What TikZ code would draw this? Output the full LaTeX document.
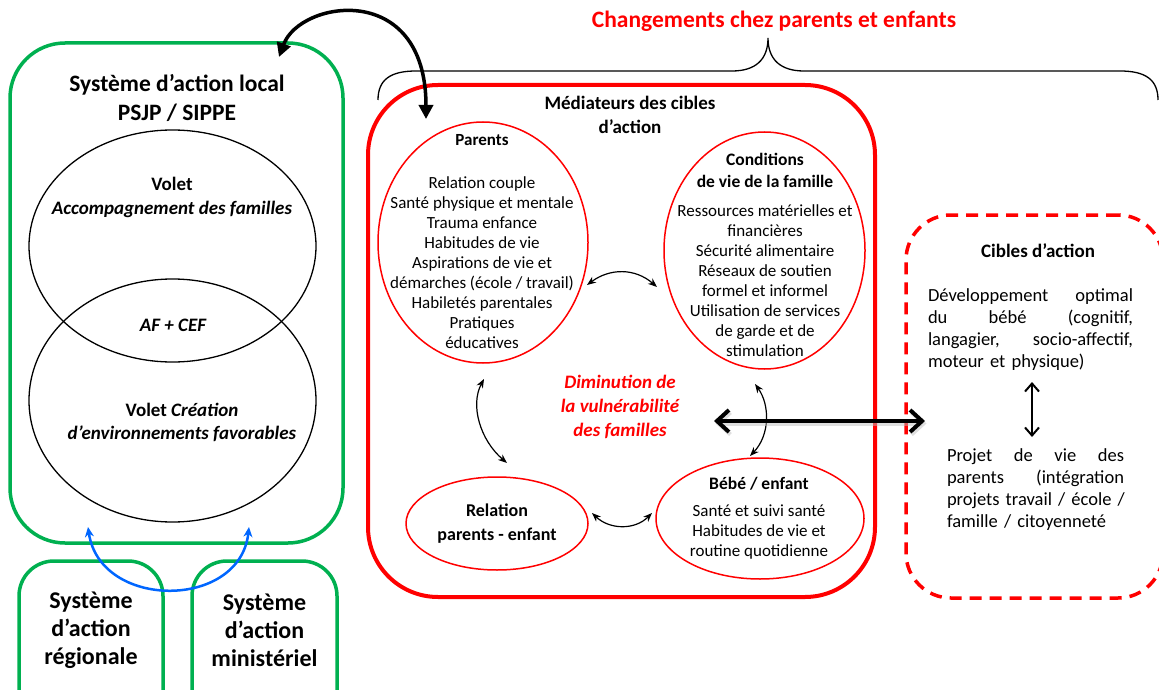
\documentclass[tikz,border=0pt]{standalone}
\usepackage{fontspec}
\setmainfont{Carlito}
\usetikzlibrary{shapes.geometric,arrows.meta}
\definecolor{grn}{RGB}{0,176,80}
\definecolor{rd}{RGB}{255,0,0}
\definecolor{blu}{RGB}{0,102,255}
\newcommand\fs[2]{\fontsize{#1}{#2}\selectfont}

\begin{document}
\begin{tikzpicture}[x=1pt,y=-1pt,
  txt/.style={inner sep=0pt, align=center},
  greenbox/.style={draw=grn, line width=3.5pt, rounded corners=55pt, inner sep=0pt},
  vennell/.style={draw=black, line width=1.3pt, ellipse, inner sep=0pt},
  redell/.style={draw=rd, line width=1.5pt, ellipse, inner sep=0pt},
  twoway/.style={{Stealth[length=9pt,width=7pt]}-{Stealth[length=9pt,width=7pt]}, line width=1.2pt},
  bluearrow/.style={draw=blu, line width=2.5pt, {Stealth[length=10pt,width=9pt]}-{Stealth[length=10pt,width=9pt]}},
  bigarrow/.style={line width=4pt, {Straight Barb[length=12pt,width=22pt]}-{Straight Barb[length=12pt,width=22pt]}},
]
\useasboundingbox (0,0) rectangle (1159,690);
\clip (0,0) rectangle (1159,690);

% ---------- local action system ----------
\node[greenbox, minimum width=333, minimum height=500] (local) at (176.5,293) {};
\node[txt, font=\bfseries\fs{23.5}{29}] (localT) at (177,97.5) {Système d’action local\\PSJP / SIPPE};
\node[vennell, minimum width=287, minimum height=232] (vaf) at (172.5,246) {};
\node[vennell, minimum width=287, minimum height=243] (vcef) at (172.5,400.5) {};
\node[txt, font=\bfseries\fs{19}{24}] (vafT) at (172,197) {Volet\\\textit{Accompagnement des familles}};
\node[txt, font=\bfseries\itshape\fs{19}{24}] (both) at (173,325) {AF + CEF};
\node[txt, font=\bfseries\fs{19}{23}] (vcefT) at (182,422.5) {Volet \textit{Création}\\\textit{d’environnements favorables}};

% ---------- regional and ministerial systems ----------
\node[greenbox, rounded corners=35pt, minimum width=144, minimum height=170] (reg) at (91,646) {};
\node[txt, font=\bfseries\fs{24}{28}] (regT) at (91,630.5) {Système\\d’action\\régionale};
\node[greenbox, rounded corners=35pt, minimum width=145, minimum height=170] (mins) at (264.5,646) {};
\node[txt, font=\bfseries\fs{24}{28}] (minsT) at (264.5,630.5) {Système\\d’action\\ministériel};
\coordinate (blA) at (88,527);
\coordinate (blB) at (249,527);
\draw[bluearrow] (blA) .. controls (100,610) and (240,610) .. (blB);

% ---------- mediators ----------
\node[draw=rd, line width=4pt, rounded corners=70pt, minimum width=507, minimum height=512, inner sep=0pt] (med) at (621.5,341) {};
\node[txt, font=\bfseries\fs{19}{24}] (medT) at (630,115) {Médiateurs des cibles\\d’action};

\node[redell, minimum width=210, minimum height=241] (par) at (483,242.5) {};
\node[txt, font=\bfseries\fs{17}{20}] (parT) at (482,140) {Parents};
\node[txt, font=\fs{17}{20}] (parL) at (482,263) {Relation couple\\Santé physique et mentale\\Trauma enfance\\Habitudes de vie\\Aspirations de vie et\\démarches (école / travail)\\Habiletés parentales\\Pratiques\\éducatives};

\node[redell, minimum width=201, minimum height=237] (cond) at (764.5,250.5) {};
\node[txt, font=\bfseries\fs{17.5}{22}] (condT) at (765,170) {Conditions\\de vie de la famille};
\node[txt, font=\fs{17}{20}] (condL) at (765,281) {Ressources matérielles et\\financières\\Sécurité alimentaire\\Réseaux de soutien\\formel et informel\\Utilisation de services\\de garde et de\\stimulation};

\node[redell, minimum width=182, minimum height=93] (rel) at (497,523.5) {};
\node[txt, font=\bfseries\fs{18}{24}] (relT) at (497,524) {Relation\\parents - enfant};

\node[redell, minimum width=208, minimum height=121] (bebe) at (760,518.5) {};
\node[txt, font=\bfseries\fs{17.5}{20}] (bebeT) at (759,484) {Bébé / enfant};
\node[txt, font=\fs{17}{20}] (bebeL) at (759,532) {Santé et suivi santé\\Habitudes de vie et\\routine quotidienne};

\node[txt, font=\bfseries\itshape\fs{19}{24}, text=rd] (dim) at (620,407) {Diminution de\\la vulnérabilité\\des familles};

% links between mediators
\coordinate (pcA) at (587,285);
\coordinate (pcB) at (657,287);
\draw[twoway] (pcA) .. controls (610,268) and (635,268) .. (pcB);
\coordinate (prA) at (484,379);
\coordinate (prB) at (507,463);
\draw[twoway] (prA) .. controls (470,405) and (480,440) .. (prB);
\coordinate (cbA) at (755,384);
\coordinate (cbB) at (750,456);
\draw[twoway] (cbA) .. controls (770,405) and (770,435) .. (cbB);
\coordinate (rbA) at (592,513);
\coordinate (rbB) at (652,513);
\draw[twoway] (rbA) .. controls (610,530) and (635,530) .. (rbB);

% ---------- action targets ----------
\node[draw=rd, line width=3.5pt, dash pattern=on 12pt off 8pt, rounded corners=45pt, minimum width=257, minimum height=383, inner sep=0pt] (cib) at (1034.5,406.5) {};
\node[txt, font=\bfseries\fs{19}{24}] (cibT) at (1038,251) {Cibles d’action};
\node[inner sep=0pt, text width=205pt, align=left, font=\fs{18.5}{22}] (dev) at (1030.5,330)
  {\makebox[205pt][l]{Développement\hfill optimal}\\
   \makebox[205pt][l]{du\hfill bébé\hfill (cognitif,}\\
   \makebox[205pt][l]{langagier,\hfill socio-affectif,}\\
   moteur et physique)};
\node[inner sep=0pt, text width=177pt, align=left, font=\fs{18.5}{22}] (proj) at (1035.5,490)
  {\makebox[177pt][l]{Projet\hfill de\hfill vie\hfill des}\\
   \makebox[177pt][l]{parents\hfill (intégration}\\
   \makebox[177pt][l]{projets travail / école /}\\
   famille / citoyenneté};
\coordinate (vA) at (1032,382);
\coordinate (vB) at (1032,437);
\draw[line width=2pt, {Straight Barb[length=8pt,width=14pt]}-{Straight Barb[length=8pt,width=14pt]}] (vA) -- (vB);

% main two-way arrow with its shadow
\coordinate (hA) at (714,421);
\coordinate (hB) at (925,421);
\draw[bigarrow, draw=black!25, opacity=0.5, transform canvas={shift={(1.5pt,-2.5pt)}}] (hA) -- (hB);
\draw[bigarrow] (hA) -- (hB);

% ---------- link between local system and mediators ----------
\coordinate (lkA) at (279,57);
\coordinate (lkB) at (426,119);
\draw[line width=3.5pt, {Triangle[length=14pt,width=14pt]}-{Triangle[length=14pt,width=14pt]}] (lkA) .. controls (300,0) and (426,-20) .. (lkB);

% ---------- brace and heading ----------
\draw[line width=1.3pt] (378,100) .. controls (378,80) and (390,71) .. (416,71) -- (732,71)
  .. controls (755,71) and (768,60) .. (768,38) .. controls (768,60) and (781,71) .. (804,71)
  -- (1120,71) .. controls (1146,71) and (1158,80) .. (1158,100);
\node[txt, font=\bfseries\fs{23.5}{27}, text=rd] (chg) at (774,21) {Changements chez parents et enfants};
\end{tikzpicture}
\end{document}
